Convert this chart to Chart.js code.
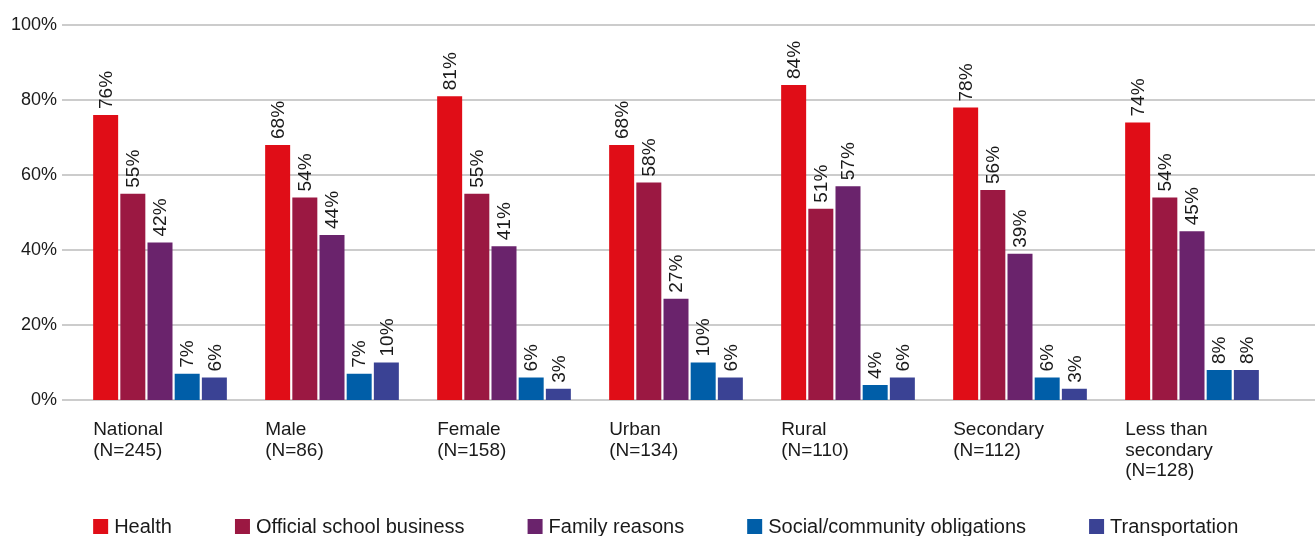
<!DOCTYPE html>
<html>
<head>
<meta charset="utf-8">
<script src="https://cdn.jsdelivr.net/npm/chart.js@4/dist/chart.umd.min.js"></script>
<style>
  html, body { margin: 0; padding: 0; background: #fff; }
  #wrap { width: 1315px; height: 536px; }
</style>
</head>
<body>
<div id="wrap"><canvas id="chart" width="1315" height="536"></canvas></div>
<script>
const groups = [
  ["National", "(N=245)"],
  ["Male", "(N=86)"],
  ["Female", "(N=158)"],
  ["Urban", "(N=134)"],
  ["Rural", "(N=110)"],
  ["Secondary", "(N=112)"],
  ["Less than", "secondary", "(N=128)"]
];
const reasons = ["Health", "Official school business", "Family reasons", "Social/community obligations", "Transportation"];
const health = [76, 68, 81, 68, 84, 78, 74];
const official = [55, 54, 55, 58, 51, 56, 54];
const family = [42, 44, 41, 27, 57, 39, 45];
const social = [7, 7, 6, 10, 4, 6, 8];
const transport = [6, 10, 3, 6, 6, 3, 8];
const yTicks = [0, 20, 40, 60, 80, 100];

const colors = ["#E00D17", "#9B1842", "#6A236C", "#005EA8", "#3A4294"];
const FONT = "'Liberation Sans', Arial, sans-serif";
const TEXT = "#1a1a1a";

// gridlines run the full width, wider than the plot area
const gridPlugin = {
  id: "grid",
  beforeDatasetsDraw(chart) {
    const ctx = chart.ctx;
    const y = chart.scales.y;
    ctx.save();
    ctx.strokeStyle = "#cccccc";
    ctx.lineWidth = 2;
    yTicks.forEach(v => {
      const py = Math.round(y.getPixelForValue(v));
      ctx.beginPath();
      ctx.moveTo(62, py);
      ctx.lineTo(chart.width, py);
      ctx.stroke();
    });
    ctx.restore();
  }
};

// rotated value labels on top of each bar
const valuePlugin = {
  id: "values",
  afterDatasetsDraw(chart) {
    const ctx = chart.ctx;
    ctx.save();
    ctx.font = "19px " + FONT;
    ctx.fillStyle = TEXT;
    ctx.textAlign = "left";
    ctx.textBaseline = "middle";
    chart.data.datasets.forEach((ds, i) => {
      chart.getDatasetMeta(i).data.forEach((bar, j) => {
        ctx.save();
        ctx.translate(bar.x, bar.y - 6);
        ctx.rotate(-Math.PI / 2);
        ctx.fillText(ds.data[j] + "%", 0, 1);
        ctx.restore();
      });
    });
    ctx.restore();
  }
};

// group names under the first bar of each group, plus the legend row
const labelPlugin = {
  id: "labels",
  afterDraw(chart) {
    const ctx = chart.ctx;
    const first = chart.getDatasetMeta(0).data;
    ctx.save();
    ctx.font = "19px " + FONT;
    ctx.fillStyle = TEXT;
    ctx.textAlign = "left";
    ctx.textBaseline = "middle";
    groups.forEach((lines, i) => {
      const left = first[i].x - first[i].width / 2;
      lines.forEach((t, k) => ctx.fillText(t, left, 430 + k * 20.5));
    });

    ctx.font = "20px " + FONT;
    let x = first[0].x - first[0].width / 2;
    chart.data.datasets.forEach(ds => {
      ctx.fillStyle = ds.backgroundColor;
      ctx.fillRect(x, 519, 15, 15);
      ctx.fillStyle = TEXT;
      ctx.fillText(ds.label, x + 21, 527);
      x += 21 + ctx.measureText(ds.label).width + 63;
    });
    ctx.restore();
  }
};

const series = [health, official, family, social, transport];

new Chart(document.getElementById("chart"), {
  type: "bar",
  data: {
    labels: groups.map(g => g.join(" ")),
    datasets: series.map((d, i) => ({
      label: reasons[i],
      data: d,
      backgroundColor: colors[i],
      borderWidth: 0,
      categoryPercentage: 0.79,
      barPercentage: 0.92
    }))
  },
  options: {
    responsive: false,
    animation: false,
    layout: { padding: { left: 0, right: 37, top: 25, bottom: 136 } },
    plugins: {
      legend: { display: false },
      tooltip: { enabled: false }
    },
    scales: {
      x: { display: false },
      y: {
        min: 0,
        max: 100,
        afterFit(scale) { scale.width = 74; },
        afterBuildTicks(scale) { scale.ticks = yTicks.map(v => ({ value: v })); },
        grid: { display: false },
        border: { display: false },
        ticks: {
          padding: 9,
          color: TEXT,
          font: { family: FONT, size: 18 },
          callback: v => v + "%"
        }
      }
    }
  },
  plugins: [gridPlugin, valuePlugin, labelPlugin]
});
</script>
</body>
</html>
